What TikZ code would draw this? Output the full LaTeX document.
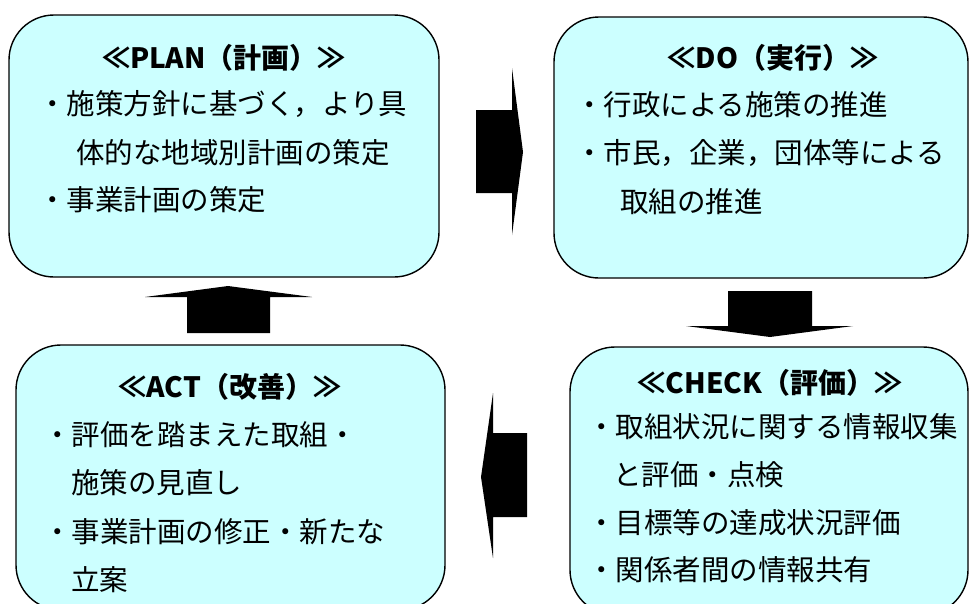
\documentclass[tikz,border=0pt]{standalone}
\usepackage{fontspec}
\setmainfont{Noto Sans CJK JP}
\definecolor{boxfill}{HTML}{CCFFFF}
\tikzset{
  box/.style={draw=black, line width=1.4pt, fill=boxfill, rounded corners=45pt, inner sep=0pt},
  ttl/.style={inner sep=0pt, anchor=center, font=\fontsize{28}{33}\selectfont\bfseries},
  txt/.style={inner sep=0pt, anchor=west, font=\fontsize{28.5}{33}\selectfont},
  blk/.style={fill=black, draw=none}
}
\begin{document}
\begin{tikzpicture}[x=1pt,y=-1pt]
\useasboundingbox (0,0) rectangle (969,603);
\clip (0,0) rectangle (969,603);
% boxes
\node[box, minimum width=430pt, minimum height=262pt] (plan) at (224,146) {};
\node[box, minimum width=414pt, minimum height=261pt] (do) at (761,147.5) {};
\node[box, minimum width=429pt, minimum height=265pt] (act) at (230.5,477.5) {};
\node[box, minimum width=398pt, minimum height=268pt] (check) at (769,481) {};
% PLAN text
\node[ttl] (planT) at (224,58) {≪PLAN（計画）≫};
\node[txt] (plan1) at (38,104) {・施策方針に基づく，より具};
\node[txt] (plan2) at (76,153) {体的な地域別計画の策定};
\node[txt] (plan3) at (38,200) {・事業計画の策定};
% DO text
\node[ttl] (doT) at (773,58) {≪DO（実行）≫};
\node[txt] (do1) at (575,105) {・行政による施策の推進};
\node[txt] (do2) at (575,153) {・市民，企業，団体等による};
\node[txt] (do3) at (620,202) {取組の推進};
% ACT text
\node[ttl] (actT) at (230,387) {≪ACT（改善）≫};
\node[txt] (act1) at (43,435) {・評価を踏まえた取組・};
\node[txt] (act2) at (71,483) {施策の見直し};
\node[txt] (act3) at (43,532) {・事業計画の修正・新たな};
\node[txt] (act4) at (71,580) {立案};
% CHECK text
\node[ttl] (checkT) at (770,383) {≪CHECK（評価）≫};
\node[txt] (check1) at (587,427) {・取組状況に関する情報収集};
\node[txt] (check2) at (613,475) {と評価・点検};
\node[txt] (check3) at (587,523) {・目標等の達成状況評価};
\node[txt] (check4) at (587,570) {・関係者間の情報共有};
% block arrows
\fill[blk] (476,110) -- (512,110) -- (512,68) -- (523,152) -- (512,235) -- (512,193) -- (476,193) -- cycle;
\fill[blk] (728,291) -- (812,291) -- (812,326) -- (853,326) -- (770,337) -- (686,326) -- (728,326) -- cycle;
\fill[blk] (527,433) -- (527,517) -- (493,517) -- (493,558) -- (481,477) -- (493,393) -- (493,433) -- cycle;
\fill[blk] (187,333) -- (187,297) -- (145,297) -- (228,286) -- (312,297) -- (270,297) -- (270,333) -- cycle;
\end{tikzpicture}
\end{document}
